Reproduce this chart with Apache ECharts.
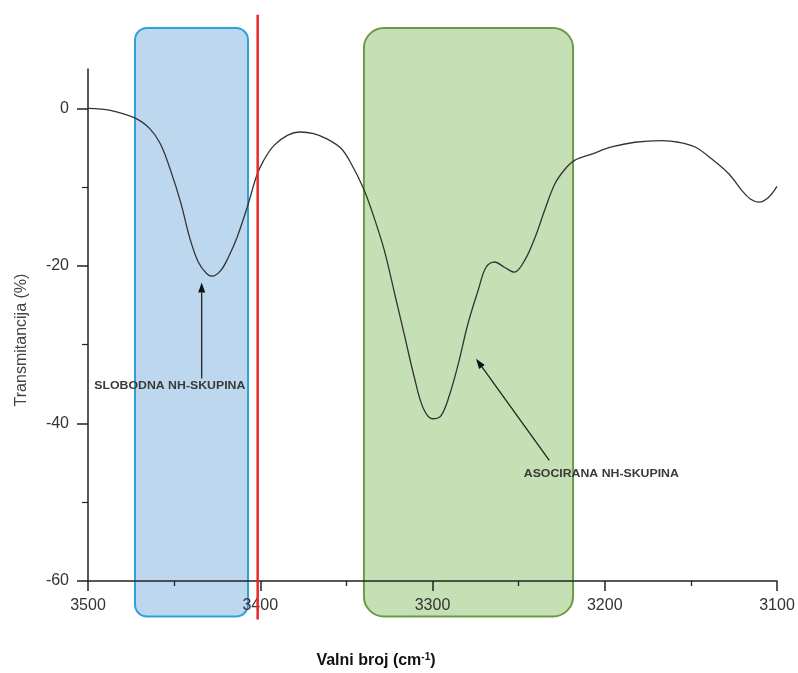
<!DOCTYPE html>
<html>
<head>
<meta charset="utf-8">
<script src="https://cdn.jsdelivr.net/npm/echarts@6/dist/echarts.min.js"></script>
<style>
html,body{margin:0;padding:0;background:#fff;}
#chart{width:798px;height:673px;}
</style>
</head>
<body>
<div id="chart"></div>
<script>
// Wavenumber (cm-1) and transmittance (%)
const wavenumber = [3500,3487,3472,3464,3458,3452,3446,3441,3436,3431,3428,3423,3418.5,3413.5,3407.5,3402,3398,3392,3384,3377,3369,3361,3353,3347.5,3340,3334,3328,3322,3316.5,3310.5,3305.5,3300,3295,3290,3285,3279.5,3273.5,3269,3264,3258,3252.5,3246.5,3240.5,3235,3229,3223,3217.5,3207.5,3196,3182.5,3167,3157,3147.5,3138,3128,3120.5,3115.5,3110.5,3105,3100];
const transmittance = [0,-0.25,-1.3,-2.6,-4.5,-7.9,-12.1,-16.4,-19.5,-21.0,-21.3,-20.6,-18.9,-16.4,-12.5,-8.5,-6.6,-4.7,-3.4,-3.0,-3.2,-3.9,-5.1,-6.9,-10.2,-13.8,-18.0,-23.5,-28.6,-34.2,-38.0,-39.4,-39.0,-36.3,-32.4,-27.4,-23.1,-20.2,-19.5,-20.2,-20.8,-19.3,-16.4,-13.0,-9.6,-7.7,-6.6,-5.8,-4.9,-4.3,-4.1,-4.3,-4.9,-6.4,-8.3,-10.4,-11.5,-11.9,-11.3,-9.9];

const xTicks = [3500,3400,3300,3200,3100];
const xMinorTicks = [3450,3350,3250,3150];
const yTicks = [-60,-40,-20,0];
const yMinorTicks = [-50,-30,-10];

// annotation regions (data units)
const freeRegionX = [3472.7, 3407.1];
const assocRegionX = [3339.8, 3218.4];
const regionY = [10.2, -64.5];
const redLineX = 3401.5;
const redLineY = [11.9, -64.9];
const freeLabel = 'SLOBODNA NH-SKUPINA';
const assocLabel = 'ASOCIRANA NH-SKUPINA';
const freeArrow = [[3434, -34.3], [3434, -22.1]];
const assocArrow = [[3232.2, -44.7], [3274.7, -31.8]];
const freeLabelPos = [3452.5, -35.3];
const assocLabelPos = [3202, -46.5];

const chart = echarts.init(document.getElementById('chart'), null, {renderer:'canvas'});
const axisColor = '#222';
const font = 'Liberation Sans, Arial, sans-serif';
const option = {
  animation: false,
  backgroundColor: '#fff',
  grid: {left: 88, right: 21, top: 69, bottom: 92},
  xAxis: [{
    type: 'value', min: 3100, max: 3500, inverse: true,
    axisLine: {onZero: false, lineStyle: {color: axisColor, width: 1.5}},
    axisTick: {inside: false, length: 10, customValues: xTicks, lineStyle: {color: axisColor, width: 1.5}},
    axisLabel: {fontSize: 16, color: '#333', margin: 17, fontFamily: font, customValues: xTicks,
      formatter: v => String(v)},
    splitLine: {show: false}
  }, {
    type: 'value', min: 3100, max: 3500, inverse: true, position: 'bottom',
    axisLine: {show: false, onZero: false},
    axisTick: {inside: false, length: 5, customValues: xMinorTicks, lineStyle: {color: axisColor, width: 1.3}},
    axisLabel: {show: false},
    splitLine: {show: false}
  }],
  yAxis: [{
    type: 'value', min: -60, max: 5,
    axisLine: {show: true, onZero: false, lineStyle: {color: axisColor, width: 1.5}},
    axisTick: {show: true, inside: false, length: 11, customValues: yTicks, lineStyle: {color: axisColor, width: 1.5}},
    axisLabel: {fontSize: 16, color: '#333', margin: 19, customValues: yTicks, fontFamily: font},
    splitLine: {show: false}
  }, {
    type: 'value', min: -60, max: 5, position: 'left',
    axisLine: {show: false, onZero: false},
    axisTick: {show: true, inside: false, length: 6, customValues: yMinorTicks, lineStyle: {color: axisColor, width: 1.2}},
    axisLabel: {show: false},
    splitLine: {show: false}
  }],
  series: [{
    type: 'line',
    data: wavenumber.map((w, i) => [w, transmittance[i]]),
    smooth: 0.35,
    showSymbol: false,
    lineStyle: {color: '#333', width: 1.3},
    z: 5
  }]
};
chart.setOption(option);

function px(x, y) {
  return [chart.convertToPixel({xAxisIndex: 0}, x), chart.convertToPixel({yAxisIndex: 0}, y)];
}
function rectFromRegion(xr, yr, fill, stroke, r) {
  const a = px(xr[0], yr[0]), b = px(xr[1], yr[1]);
  return {
    type: 'rect', z: -5,
    shape: {x: Math.min(a[0], b[0]), y: Math.min(a[1], b[1]), width: Math.abs(b[0]-a[0]), height: Math.abs(b[1]-a[1]), r: r},
    style: {fill: fill, stroke: stroke, lineWidth: 2}
  };
}
function arrow(tailV, headV) {
  const t = px(tailV[0], tailV[1]), h = px(headV[0], headV[1]);
  const dx = h[0]-t[0], dy = h[1]-t[1], L = Math.hypot(dx, dy);
  const ux = dx/L, uy = dy/L, nx = -uy, ny = ux;
  const hl = 10, hw = 3.5;
  const base = [h[0]-ux*hl, h[1]-uy*hl];
  return [{
    type: 'line', z: 20,
    shape: {x1: t[0], y1: t[1], x2: base[0], y2: base[1]},
    style: {stroke: '#222', lineWidth: 1.3}
  }, {
    type: 'polygon', z: 20,
    shape: {points: [h, [base[0]+nx*hw, base[1]+ny*hw], [base[0]-nx*hw, base[1]-ny*hw]]},
    style: {fill: '#111'}
  }];
}
function label(text, posV) {
  const p = px(posV[0], posV[1]);
  return {
    type: 'text', z: 20, x: p[0], y: p[1], scaleX: 1.23,
    style: {text: text, fill: '#3a3a3a', font: 'bold 10px "Liberation Sans", Arial, sans-serif', textAlign: 'center', textVerticalAlign: 'middle'}
  };
}
const r1 = px(redLineX, redLineY[0]), r2 = px(redLineX, redLineY[1]);
const graphics = [
  rectFromRegion(freeRegionX, regionY, '#bdd7ee', '#2ea2d6', 12),
  rectFromRegion(assocRegionX, regionY, '#c5e0b4', '#6e9a48', 20),
  {type: 'line', z: 10, shape: {x1: r1[0], y1: r1[1], x2: r2[0], y2: r2[1]}, style: {stroke: '#e8282b', lineWidth: 2.5}},
  ...arrow(freeArrow[0], freeArrow[1]),
  ...arrow(assocArrow[0], assocArrow[1]),
  label(freeLabel, freeLabelPos),
  label(assocLabel, assocLabelPos),
  {type: 'text', z: 20, x: 22, y: 340, rotation: Math.PI/2,
   style: {text: 'Transmitancija (%)', fill: '#444', font: '16px "Liberation Sans", Arial, sans-serif', textAlign: 'center', textVerticalAlign: 'middle'}},
  {type: 'text', z: 20, x: 376, y: 661,
   style: {text: '{b|Valni broj (cm}{s|-1}{b|)}', textAlign: 'center', textVerticalAlign: 'middle',
     rich: {
       b: {fontSize: 16, fontWeight: 'bold', fill: '#111', color: '#111', fontFamily: font},
       s: {fontSize: 10, fontWeight: 'bold', fill: '#111', color: '#111', verticalAlign: 'top', padding: [0,0,8,0], fontFamily: font}
     }}}
];
chart.setOption({graphic: graphics});
</script>
</body>
</html>
